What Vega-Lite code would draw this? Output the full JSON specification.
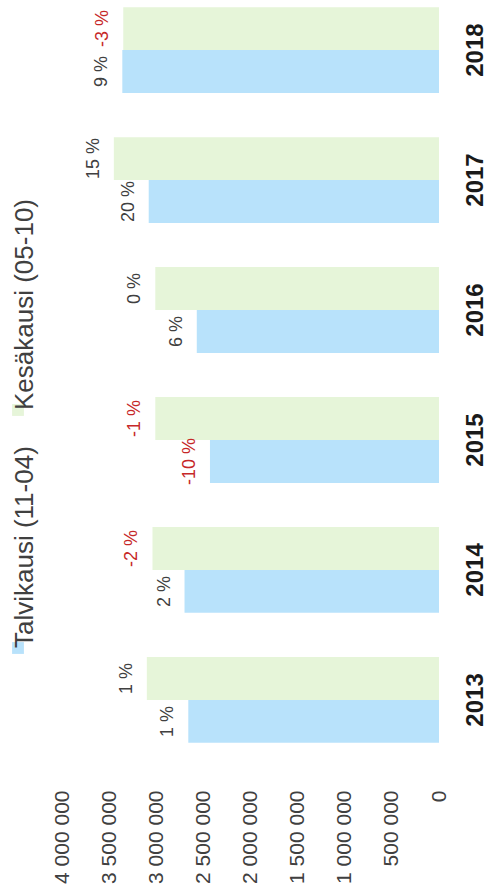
{
  "$schema": "https://vega.github.io/schema/vega-lite/v6.json",
  "autosize": {"type": "none"},
  "padding": {"left": 62, "top": 0, "right": 47, "bottom": 146},
  "width": 377,
  "height": 750,
  "background": "white",
  "data": {
    "values": [
      {"year": "2013", "series": "Talvikausi (11-04)", "value": 2660000, "pct": "1 %", "neg": false},
      {"year": "2013", "series": "Kesäkausi (05-10)", "value": 3100000, "pct": "1 %", "neg": false},
      {"year": "2014", "series": "Talvikausi (11-04)", "value": 2700000, "pct": "2 %", "neg": false},
      {"year": "2014", "series": "Kesäkausi (05-10)", "value": 3040000, "pct": "-2 %", "neg": true},
      {"year": "2015", "series": "Talvikausi (11-04)", "value": 2430000, "pct": "-10 %", "neg": true},
      {"year": "2015", "series": "Kesäkausi (05-10)", "value": 3010000, "pct": "-1 %", "neg": true},
      {"year": "2016", "series": "Talvikausi (11-04)", "value": 2570000, "pct": "6 %", "neg": false},
      {"year": "2016", "series": "Kesäkausi (05-10)", "value": 3010000, "pct": "0 %", "neg": false},
      {"year": "2017", "series": "Talvikausi (11-04)", "value": 3080000, "pct": "20 %", "neg": false},
      {"year": "2017", "series": "Kesäkausi (05-10)", "value": 3450000, "pct": "15 %", "neg": false},
      {"year": "2018", "series": "Talvikausi (11-04)", "value": 3360000, "pct": "9 %", "neg": false},
      {"year": "2018", "series": "Kesäkausi (05-10)", "value": 3350000, "pct": "-3 %", "neg": true}
    ]
  },
  "encoding": {
    "x": {
      "field": "value",
      "type": "quantitative",
      "scale": {"domain": [0, 4000000], "reverse": true, "nice": false, "zero": true},
      "axis": {
        "values": [0, 500000, 1000000, 1500000, 2000000, 2500000, 3000000, 3500000, 4000000],
        "labelExpr": "replace(replace(format(datum.value, ','), ',', ' '), ',', ' ')",
        "labelAngle": -90,
        "labelAlign": "right",
        "labelBaseline": "middle",
        "labelPadding": 40,
        "labelFlush": false,
        "labelOverlap": false,
        "labelFont": "Liberation Sans",
        "labelFontSize": 21,
        "labelColor": "#404040",
        "domain": false,
        "ticks": false,
        "grid": false,
        "title": null
      }
    },
    "y": {
      "field": "year",
      "type": "ordinal",
      "sort": "descending",
      "scale": {"paddingInner": 0.34, "paddingOuter": 0.055},
      "axis": {
        "orient": "right",
        "labelAngle": -90,
        "labelAlign": "center",
        "labelBaseline": "top",
        "labelPadding": 24,
        "labelFont": "Liberation Sans",
        "labelFontSize": 24,
        "labelFontWeight": "bold",
        "labelColor": "#1a1a1a",
        "domain": false,
        "ticks": false,
        "grid": false,
        "title": null
      }
    },
    "yOffset": {
      "field": "series",
      "type": "nominal",
      "scale": {"domain": ["Kesäkausi (05-10)", "Talvikausi (11-04)"], "paddingInner": 0, "paddingOuter": 0}
    }
  },
  "layer": [
    {
      "mark": {"type": "bar"},
      "encoding": {
        "color": {
          "field": "series",
          "type": "nominal",
          "scale": {"domain": ["Kesäkausi (05-10)", "Talvikausi (11-04)"], "range": ["#e6f5d9", "#b8e2fb"]},
          "legend": {
            "orient": "none",
            "legendX": -57,
            "legendY": 397,
            "direction": "vertical",
            "title": null,
            "symbolType": "square",
            "symbolSize": 140,
            "symbolStrokeWidth": 0,
            "labelFont": "Liberation Sans",
            "labelFontSize": 26,
            "labelColor": "#404040",
            "labelOffset": -6,
            "labelLimit": 400,
            "rowPadding": 30,
            "padding": 0,
            "labelExpr": "'\u00a0\u00a0' + datum.label"
          }
        }
      }
    },
    {
      "mark": {"type": "text", "angle": -90, "align": "center", "baseline": "middle", "dy": -20, "font": "Liberation Sans", "fontSize": 18},
      "encoding": {
        "text": {"field": "pct", "type": "nominal"},
        "color": {"condition": {"test": "datum.neg", "value": "#c62828"}, "value": "#404040"}
      }
    }
  ],
  "config": {
    "view": {"stroke": null},
    "style": {"guide-label": {"angle": -90}}
  }
}
